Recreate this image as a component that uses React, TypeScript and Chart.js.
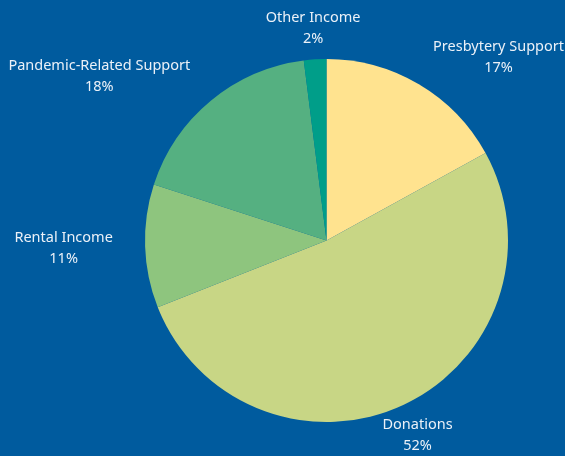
import React, { useEffect, useRef } from "react";
import { Chart, registerables } from "chart.js";

Chart.register(...registerables);

const categories = ["Presbytery Support", "Donations", "Rental Income", "Pandemic-Related Support", "Other Income"];
const shares = [17, 52, 11, 18, 2];
const sliceColors = ["#FFE38F", "#C8D685", "#8EC57E", "#55B081", "#009E89"];
const BG = "#005B9E";
const FONT = "14.5px 'Noto Sans', sans-serif";

const outsideLabels = {
  id: "outsideLabels",
  afterDraw(chart: any) {
    const ctx = chart.ctx;
    const meta = chart.getDatasetMeta(0);
    ctx.save();
    ctx.font = FONT;
    ctx.fillStyle = "#EBF1F8";
    ctx.textBaseline = "middle";
    meta.data.forEach((arc: any, i: number) => {
      const mid = (arc.startAngle + arc.endAngle) / 2;
      const r = arc.outerRadius * 1.2 - 4;
      const ax = arc.x + Math.cos(mid) * r;
      const ay = arc.y + Math.sin(mid) * r + 1;
      const lines = [categories[i], shares[i] + "%"];
      const w = Math.max(...lines.map((l) => ctx.measureText(l).width));
      const c = Math.cos(mid);
      let cx = ax;
      if (c > 0.45) cx = Math.min(ax + w / 2, chart.width - 1 - w / 2);
      else if (c < -0.45) cx = ax - w / 2;
      ctx.textAlign = "center";
      const lh = 21;
      lines.forEach((l, k) => {
        ctx.fillText(l, cx, ay + (k - 0.5) * lh);
      });
    });
    ctx.restore();
  },
};

export default function App() {
  const ref = useRef<HTMLCanvasElement | null>(null);
  useEffect(() => {
    document.body.style.margin = "0";
    document.body.style.background = BG;
    const chart = new Chart(ref.current!, {
      type: "pie",
      data: {
        labels: categories,
        datasets: [
          {
            data: shares,
            backgroundColor: sliceColors,
            borderWidth: 0,
          },
        ],
      },
      options: {
        animation: false,
        responsive: false,
        layout: { padding: { left: 145, right: 57, top: 59, bottom: 34 } },
        plugins: {
          legend: { display: false },
          tooltip: { enabled: false },
        },
      },
      plugins: [outsideLabels],
    });
    return () => chart.destroy();
  }, []);
  return (
    <div style={{ width: 565, height: 456, background: BG }}>
      <canvas ref={ref} width={565} height={456} style={{ display: "block" }} />
    </div>
  );
}
